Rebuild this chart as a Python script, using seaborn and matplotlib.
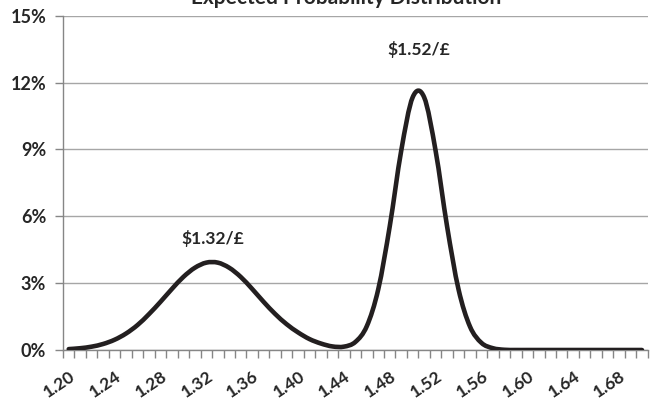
import matplotlib
matplotlib.use("Agg")
import matplotlib.pyplot as plt
import matplotlib.transforms as mtransforms
from matplotlib.ticker import FixedLocator, FuncFormatter
from matplotlib.patheffects import AbstractPathEffect
from matplotlib.path import Path
import numpy as np
import pandas as pd
import seaborn as sns

# ---------------- data ----------------
categories = ["1.20", "1.21", "1.22", "1.23", "1.24", "1.25", "1.26", "1.27", "1.28", "1.29",
              "1.30", "1.31", "1.32", "1.33", "1.34", "1.35", "1.36", "1.37", "1.38", "1.39",
              "1.40", "1.41", "1.42", "1.43", "1.44", "1.45", "1.46", "1.47", "1.48", "1.49",
              "1.50", "1.51", "1.52", "1.53", "1.54", "1.55", "1.56", "1.57", "1.58", "1.59",
              "1.60", "1.61", "1.62", "1.63", "1.64", "1.65", "1.66", "1.67", "1.68", "1.69",
              "1.70"]
probability = [0.04, 0.08, 0.15, 0.27, 0.46, 0.74, 1.12, 1.61, 2.16, 2.74,
               3.28, 3.69, 3.92, 3.92, 3.69, 3.28, 2.74, 2.16, 1.62, 1.16,
               0.79, 0.49, 0.29, 0.16, 0.15, 0.36, 1.07, 2.73, 5.55, 8.94,
               11.34, 11.34, 8.94, 5.55, 2.72, 1.05, 0.32, 0.08, 0.01, 0.00,
               0.00, 0.00, 0.00, 0.00, 0.00, 0.00, 0.00, 0.00, 0.00, 0.00,
               0.00]
label_every = 4
y_ticks = [0, 3, 6, 9, 12, 15]
title = "Expected Probability Distribution"
peak_labels = ["$1.32/£", "$1.52/£"]
peak_label_x = [12.6, 30.5]      # category position
peak_label_y = [5.0, 13.5]       # percent

df = pd.DataFrame({"idx": np.arange(len(categories)), "cat": categories, "prob": probability})


class SmoothedLine(AbstractPathEffect):
    """Render a line's own vertices as a smoothed (Catmull-Rom Bezier) curve,
    like a spreadsheet 'smoothed line' style."""

    def draw_path(self, renderer, gc, tpath, affine, rgbFace=None):
        v = affine.transform(tpath.vertices)
        n = len(v)
        if n < 3:
            renderer.draw_path(gc, tpath, affine, rgbFace)
            return
        verts = [v[0]]
        codes = [Path.MOVETO]
        for i in range(n - 1):
            p0 = v[i - 1] if i > 0 else v[i]
            p1 = v[i]
            p2 = v[i + 1]
            p3 = v[i + 2] if i + 2 < n else v[i + 1]
            verts += [p1 + (p2 - p0) / 6.0, p2 - (p3 - p1) / 6.0, p2]
            codes += [Path.CURVE4] * 3
        renderer.draw_path(gc, Path(np.array(verts), codes),
                           mtransforms.IdentityTransform(), rgbFace)


# ---------------- style ----------------
sns.set_theme(style="white")
plt.rcParams["font.family"] = ["Lato", "DejaVu Sans"]
plt.rcParams["font.weight"] = "bold"
plt.rcParams["path.simplify"] = False

fig = plt.figure(figsize=(6.51, 4.00), dpi=100)
ax = fig.add_axes([63 / 651, 1 - 350 / 400, (647.7 - 63) / 651, (350 - 15.7) / 400])

line_color = "#231f20"
grid_color = "#a6a6a6"
axis_color = "#868686"
text_color = "#262626"

sns.lineplot(data=df, x="idx", y="prob", ax=ax, color=line_color, linewidth=3.3,
             solid_capstyle="round", solid_joinstyle="round", zorder=3)
for ln in ax.get_lines():
    ln.set_path_effects([SmoothedLine()])

n = len(categories)
ax.set_xlim(-0.5, n - 0.5)
ax.set_ylim(y_ticks[0], y_ticks[-1])

# y axis
ax.set_yticks(y_ticks)
ax.yaxis.set_major_formatter(FuncFormatter(lambda v, p: f"{int(round(v))}%"))
ax.grid(axis="y", color=grid_color, linewidth=1.0, zorder=0)
ax.tick_params(axis="y", which="major", length=6, width=1, color=axis_color, pad=6,
               labelsize=13, labelcolor=text_color, left=True)
for lab in ax.get_yticklabels():
    lab.set_fontweight("bold")

# x axis: tick marks at category boundaries, labels at category centres
bounds = np.arange(n + 1) - 0.5
ax.xaxis.set_major_locator(FixedLocator(bounds))
ax.xaxis.set_major_formatter(FuncFormatter(lambda v, p: ""))
label_pos = list(range(0, n, label_every))
ax.xaxis.set_minor_locator(FixedLocator(label_pos))
ax.set_xticklabels([categories[i] for i in label_pos], minor=True)
ax.tick_params(axis="x", which="major", length=6, width=1, color=axis_color, bottom=True)
ax.tick_params(axis="x", which="minor", length=0, pad=18, labelsize=12.5, labelcolor=text_color)
offset = mtransforms.ScaledTranslation(5 / 100, 0, fig.dpi_scale_trans)
for lab in ax.get_xticklabels(minor=True):
    lab.set_rotation(34)
    lab.set_ha("right")
    lab.set_va("center")
    lab.set_rotation_mode("anchor")
    lab.set_fontweight("bold")
    lab.set_transform(lab.get_transform() + offset)

ax.set_xlabel("")
ax.set_ylabel("")
for side in ["top", "right"]:
    ax.spines[side].set_visible(False)
ax.spines["left"].set_color(axis_color)
ax.spines["bottom"].set_color(axis_color)
ax.spines["left"].set_linewidth(1)
ax.spines["bottom"].set_linewidth(1)

for txt, px, py in zip(peak_labels, peak_label_x, peak_label_y):
    ax.text(px, py, txt, ha="center", va="center", fontsize=12.5, fontweight="bold",
            color=text_color)

fig.text(346 / 651, 1 - 3.5 / 400, title, ha="center", va="baseline", fontsize=15,
         fontweight="bold", color=text_color)

fig.savefig("out.png", dpi=100)
